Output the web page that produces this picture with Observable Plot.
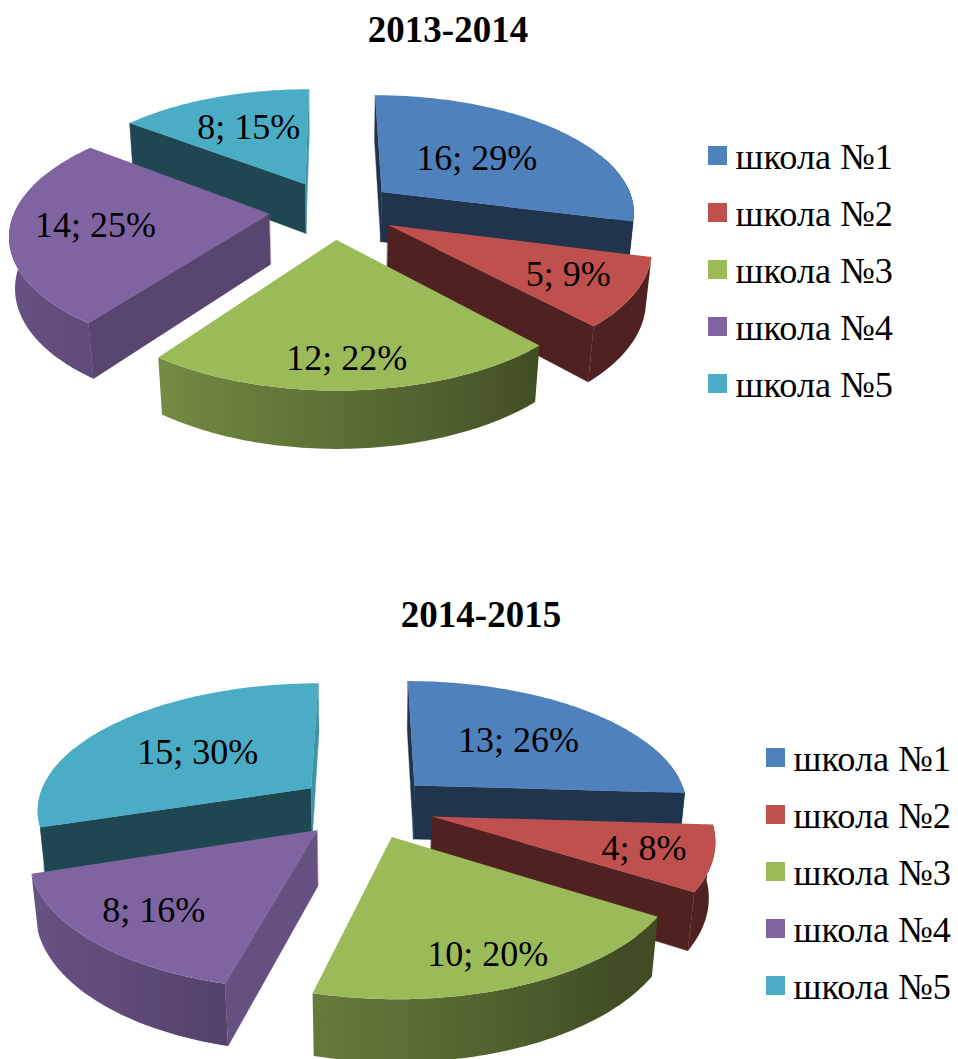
<!DOCTYPE html>
<html lang="ru">
<head>
<meta charset="utf-8">
<script src="https://cdn.jsdelivr.net/npm/d3@7"></script>
<script src="https://cdn.jsdelivr.net/npm/@observablehq/plot@0.6"></script>
<style>
  html, body { margin: 0; padding: 0; background: #fff; }
  #page { position: relative; width: 958px; height: 1059px; overflow: hidden; font-family: "Liberation Serif", serif; color: #000; }
  .title { position: absolute; font-weight: bold; font-size: 37px; line-height: 42px; transform: translateX(-50%); white-space: nowrap; }
  .legend { position: absolute; }
  .legend div { position: relative; height: 57.1px; font-size: 36.3px; line-height: 40px; white-space: nowrap; }
  .legend i { position: absolute; left: 0; top: 9px; width: 19px; height: 19px; }
  .legend span { position: absolute; left: 27.5px; top: 0; }
  svg { position: absolute; }
</style>
</head>
<body>
<div id="page"></div>
<script>
// ---- data ----
const schools = ["школа №1", "школа №2", "школа №3", "школа №4", "школа №5"];
const counts2013 = [16, 5, 12, 14, 8];
const counts2014 = [13, 4, 10, 8, 15];
const years = ["2013-2014", "2014-2015"];
const colors = ["#4f81bd", "#c0504d", "#9bbb59", "#8064a2", "#4bacc6"];

// ---- layout of each panel ----
const panels = [
  { id: "a", year: years[0], counts: counts2013, cx: 332, cy: 209, scale: 254, top: 50, height: 440,
    labelRadius: [0.52, 0.747, 0.815, 0.673, 0.617], labelTurn: [0, 0, 1, 0, 1.3],
    titleX: 448, titleY: 9, legendX: 708, legendY: 137 },
  { id: "b", year: years[1], counts: counts2014, cx: 365, cy: 806, scale: 275, top: 660, height: 399,
    labelRadius: [0.58, 0.763, 0.808, 0.748, 0.547], labelTurn: [0, 0, 1, 0, -1.5],
    titleX: 481, titleY: 594, legendX: 766, legendY: 739 }
];

// camera: tilt, distance and slice thickness in pie radii; explode is the gap from centre
const tilt = Math.asin(0.46), camera = 5.73, thickness = 0.228, explode = 0.25;
const W = 730;

function project(X, Y, Z) {
  const yc = Y * Math.sin(tilt) + Z * Math.cos(tilt);
  const zc = Y * Math.cos(tilt) - Z * Math.sin(tilt);
  const k = camera / (camera + zc);
  return { x: X * k, y: yc * k };
}
const rad = (deg) => deg * Math.PI / 180;

// brightness of the rim wall against the direction it faces (clockwise from the back)
const rimShade = d3.scaleLinear().domain([137, 216, 270]).range([0.41, 0.75, 0.87]).clamp(true);
// brightness of a radial cut wall against its normal
const cutShade = (n) => (n % 360 < 140 ? Math.min(0.85, 0.8 - (n % 360 - 104) * 0.005) : 0.41);
const shade = (c, k) => { const r = d3.rgb(c); return d3.rgb(r.r * k, r.g * k, r.b * k).formatHex(); };
const signedArea = (p) => d3.polygonArea(p.map((d) => [d.x, d.y]));
const SVG_NS = "http://www.w3.org/2000/svg";

function rimGradient(id, color, samples, x0, x1) {
  // samples: [{x, a}] along the front of the rim, turned into a left-to-right gradient
  return () => {
    const defs = document.createElementNS(SVG_NS, "defs");
    const g = document.createElementNS(SVG_NS, "linearGradient");
    g.setAttribute("id", id);
    g.setAttribute("x1", "0"); g.setAttribute("x2", "1"); g.setAttribute("y1", "0"); g.setAttribute("y2", "0");
    [...samples].sort((p, q) => p.x - q.x).forEach((d) => {
      const stop = document.createElementNS(SVG_NS, "stop");
      stop.setAttribute("offset", (d.x - x0) / Math.max(1e-6, x1 - x0));
      stop.setAttribute("stop-color", shade(color, rimShade(d.a)));
      g.appendChild(stop);
    });
    defs.appendChild(g);
    return defs;
  };
}

function sliceMarks(panel) {
  const total = d3.sum(panel.counts);
  let acc = 0;
  const slices = panel.counts.map((v, i) => {
    const a0 = acc / total * 360; acc += v; const a1 = acc / total * 360;
    const mid = (a0 + a1) / 2;
    return { i, v, a0, a1, mid, ox: explode * Math.sin(rad(mid)), oy: explode * Math.cos(rad(mid)) };
  });
  const marks = [];
  // back slices first
  for (const s of [...slices].sort((a, b) => b.oy - a.oy)) {
    const color = colors[s.i];
    const at = (r, a, z) => project(s.ox + r * Math.sin(rad(a)), s.oy + r * Math.cos(rad(a)), z);
    const angles = d3.range(s.a0, s.a1, 1).concat([s.a1]);
    // rim wall: the part near or facing the camera (the rest would sit under the top face)
    const lo = Math.max(s.a0, 70), hi = Math.min(s.a1, 290);
    if (hi > lo) {
      const rimAngles = d3.range(lo, hi, 1).concat([hi]);
      const rim = [...rimAngles.map((a) => at(1, a, 0)), ...[...rimAngles].reverse().map((a) => at(1, a, -thickness))];
      const samples = rimAngles.filter((a) => a >= 90 && a <= 270).map((a) => ({ x: at(1, a, 0).x, a }));
      if (samples.length) {
        const id = `rim-${panel.id}-${s.i}`;
        const [x0, x1] = d3.extent(rim, (d) => d.x);
        marks.push(rimGradient(id, color, samples, x0, x1));
        marks.push(Plot.line(rim, { x: "x", y: "y", curve: "linear-closed", fill: `url(#${id})`, stroke: "none" }));
      }
    }
    // radial cut walls that face the camera
    for (const [a, n, side] of [[s.a0, s.a0 + 270, -1], [s.a1, s.a1 + 90, 1]]) {
      const quad = [at(0, a, 0), at(1, a, 0), at(1, a, -thickness), at(0, a, -thickness)];
      if (signedArea(quad) * side > 0) {
        const c = shade(color, cutShade(n));
        marks.push(Plot.line(quad, { x: "x", y: "y", curve: "linear-closed", fill: c, stroke: c, strokeWidth: 0.4 }));
      }
    }
    // top face
    const top = [at(0, s.a0, 0), ...angles.map((a) => at(1, a, 0))];
    marks.push(Plot.line(top, { x: "x", y: "y", curve: "linear-closed", fill: color, stroke: "none" }));
  }
  // value labels
  const labels = slices.map((s) => {
    const r = panel.labelRadius[s.i], a = s.mid + panel.labelTurn[s.i];
    return {
      ...project(s.ox + r * Math.sin(rad(a)), s.oy + r * Math.cos(rad(a)), 0),
      text: `${s.v}; ${Math.round(100 * s.v / total)}%`
    };
  });
  marks.push(Plot.text(labels, {
    x: "x", y: "y", text: "text", fontSize: 36, fontFamily: "Liberation Serif", fill: "#000", lineAnchor: "middle"
  }));
  return marks;
}

const page = document.getElementById("page");
for (const panel of panels) {
  const { cx, cy, scale, top, height } = panel;
  const svg = Plot.plot({
    width: W, height,
    margin: 0,
    x: { domain: [-cx / scale, (W - cx) / scale], range: [0, W], axis: null },
    y: { domain: [(cy - top) / scale, (cy - top - height) / scale], range: [0, height], axis: null },
    style: { background: "transparent", fontFamily: "Liberation Serif" },
    marks: sliceMarks(panel)
  });
  svg.style.left = "0px";
  svg.style.top = top + "px";
  page.appendChild(svg);

  const title = document.createElement("div");
  title.className = "title";
  title.textContent = panel.year;
  title.style.left = panel.titleX + "px";
  title.style.top = panel.titleY + "px";
  page.appendChild(title);

  const legend = document.createElement("div");
  legend.className = "legend";
  legend.style.left = panel.legendX + "px";
  legend.style.top = panel.legendY + "px";
  schools.forEach((name, i) => {
    const row = document.createElement("div");
    const sw = document.createElement("i");
    sw.style.background = colors[i];
    const tx = document.createElement("span");
    tx.textContent = name;
    row.append(sw, tx);
    legend.appendChild(row);
  });
  page.appendChild(legend);
}
</script>
</body>
</html>
